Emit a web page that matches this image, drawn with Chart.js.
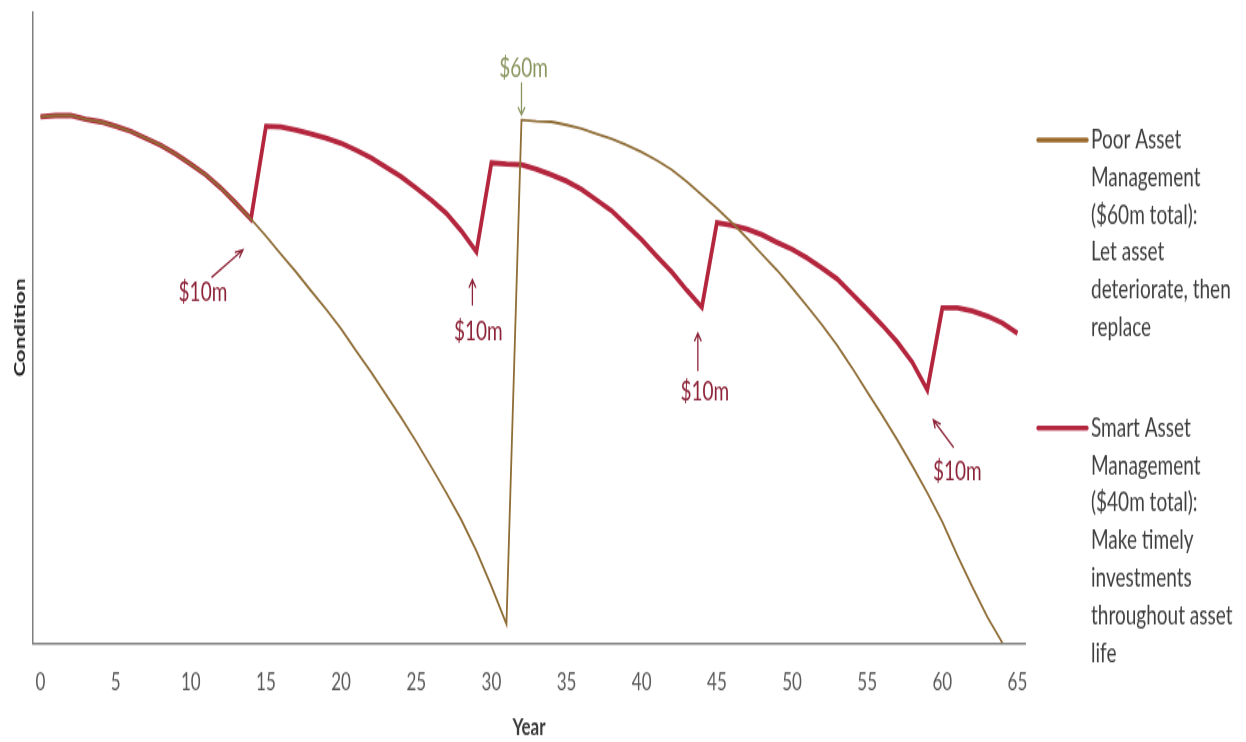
<!DOCTYPE html>
<html>
<head>
<meta charset="utf-8">
<script src="https://cdn.jsdelivr.net/npm/chart.js@4.4.1/dist/chart.umd.min.js"></script>
<style>
  html, body { margin: 0; padding: 0; background: #fff; }
  #page { position: relative; width: 1246px; height: 742px; overflow: hidden; background: #fff; }
  /* the chart is laid out 530px tall and stretched to 742px, giving tall narrow lettering */
  #wrap { position: absolute; left: 0; top: 0; width: 1246px; height: 530px; transform: scaleY(1.4); transform-origin: 0 0; }
  canvas { display: block; }
</style>
</head>
<body>
<div id="page"><div id="wrap"><canvas id="chart" width="1246" height="530"></canvas></div></div>
<script>
// Year categories along the x axis
const years = ['0','1','2','3','4','5','6','7','8','9',
  '10','11','12','13','14','15','16','17','18','19',
  '20','21','22','23','24','25','26','27','28','29',
  '30','31','32','33','34','35','36','37','38','39',
  '40','41','42','43','44','45','46','47','48','49',
  '50','51','52','53','54','55','56','57','58','59',
  '60','61','62','63','64','65'];

// Asset condition (0 = failed, 100 = top of scale), one value per year
const poorCondition = [83.4, 83.6, 83.6, 83.0, 82.6, 81.9, 81.1, 80.0, 78.9, 77.5,
  75.9, 74.2, 72.1, 69.7, 67.2, 64.5, 61.6, 58.8, 55.8, 52.9,
  49.8, 46.3, 42.9, 39.3, 35.7, 31.9, 27.9, 23.8, 19.5, 14.6,
  9.0, 3.0, 82.9, 82.7, 82.6, 82.1, 81.5, 80.7, 79.9, 78.9,
  77.8, 76.5, 75.0, 73.1, 71.0, 68.9, 66.6, 64.2, 61.6, 59.1,
  56.3, 53.4, 50.4, 47.2, 43.6, 39.8, 36.1, 32.2, 28.1, 23.8,
  19.2, 13.9, 8.9, 4.1, 0.0, null];

const smartCondition = [83.4, 83.6, 83.6, 83.0, 82.6, 81.9, 81.1, 80.0, 78.9, 77.5,
  75.9, 74.2, 72.1, 69.7, 67.2, 81.9, 81.8, 81.3, 80.7, 80.0,
  79.2, 78.1, 76.9, 75.4, 73.9, 72.1, 70.2, 68.1, 65.3, 62.0,
  76.1, 75.9, 75.8, 75.1, 74.2, 73.2, 71.9, 70.2, 68.5, 66.2,
  63.9, 61.3, 58.8, 55.9, 53.2, 66.6, 66.2, 65.6, 64.7, 63.5,
  62.4, 61.0, 59.4, 57.7, 55.3, 52.9, 50.4, 47.7, 44.5, 40.1,
  53.1, 53.1, 52.6, 51.8, 50.7, 49.1];

// Spending events: the year each note points at and what it says
const smartInvestYears = [14, 29, 44, 59];
const smartInvestLabels = ['$10m', '$10m', '$10m', '$10m'];
const poorReplaceYear = 32;
const poorReplaceLabel = '$60m';

// Legend wording
const poorLegendLines = ['Poor Asset', 'Management', '($60m total):', 'Let asset', 'deteriorate, then', 'replace'];
const smartLegendLines = ['Smart Asset', 'Management', '($40m total):', 'Make timely', 'investments', 'throughout asset', 'life'];

const STRETCH = 1.4;          // CSS vertical scale of the canvas
const POOR = '#8f6d36';
const POOR_KEY = '#9a6a2c';
const SMART = '#b3263e';
const NOTE_RED = '#8c2338';
const NOTE_GREEN = '#8a9660';
const FONT = 'Lato, "Open Sans", sans-serif';

// Note placement relative to the point each note refers to (screen pixels)
const smartNoteOffsets = [
  { tip: [-8, 31], tail: [-39, 58], label: [-48, 73] },
  { tip: [-4, 28], tail: [-4, 53], label: [2, 80] },
  { tip: [-4, 26], tail: [-4, 63], label: [3, 84] },
  { tip: [6, 30], tail: [26, 57], label: [30, 81] }
];
const replaceNoteOffset = { tip: [0, -5], tail: [0, -37], label: [2, -52] };

// Draw an arrow given screen-space coordinates; y is mapped back into canvas units
function drawArrow(ctx, x1, y1, x2, y2, color, width) {
  const a = Math.atan2(y2 - y1, x2 - x1);
  const head = 8, spread = 0.42;
  ctx.strokeStyle = color;
  ctx.lineWidth = width;
  ctx.lineCap = 'round';
  ctx.beginPath();
  ctx.moveTo(x1, y1 / STRETCH);
  ctx.lineTo(x2, y2 / STRETCH);
  ctx.moveTo(x2 - head * Math.cos(a - spread), (y2 - head * Math.sin(a - spread)) / STRETCH);
  ctx.lineTo(x2, y2 / STRETCH);
  ctx.lineTo(x2 - head * Math.cos(a + spread), (y2 - head * Math.sin(a + spread)) / STRETCH);
  ctx.stroke();
}

function drawNote(ctx, text, x, y, color) {
  ctx.fillStyle = color;
  ctx.font = '19px ' + FONT;
  ctx.textAlign = 'center';
  ctx.textBaseline = 'middle';
  ctx.fillText(text, x, y / STRETCH);
}

const notesPlugin = {
  id: 'spendingNotes',
  afterDatasetsDraw(chart) {
    const { ctx, scales: { x, y } } = chart;
    ctx.save();
    smartInvestYears.forEach((yr, i) => {
      const px = x.getPixelForValue(yr);
      const py = y.getPixelForValue(smartCondition[yr]) * STRETCH;
      const o = smartNoteOffsets[i];
      drawArrow(ctx, px + o.tail[0], py + o.tail[1], px + o.tip[0], py + o.tip[1], NOTE_RED, 1.3);
      drawNote(ctx, smartInvestLabels[i], px + o.label[0], py + o.label[1], NOTE_RED);
    });
    const rx = x.getPixelForValue(poorReplaceYear);
    const ry = y.getPixelForValue(poorCondition[poorReplaceYear]) * STRETCH;
    const r = replaceNoteOffset;
    drawArrow(ctx, rx + r.tail[0], ry + r.tail[1], rx + r.tip[0], ry + r.tip[1], NOTE_GREEN, 1.3);
    drawNote(ctx, poorReplaceLabel, rx + r.label[0], ry + r.label[1], NOTE_GREEN);
    ctx.restore();
  }
};

// Side legend with wrapped descriptions
const sideLegendPlugin = {
  id: 'sideLegend',
  afterDraw(chart) {
    const { ctx } = chart;
    const blocks = [
      { lines: poorLegendLines, color: POOR_KEY, top: 140 },
      { lines: smartLegendLines, color: SMART, top: 428 }
    ];
    const keyLeft = 1038, keyRight = 1087, textLeft = 1091, step = 37.5;
    ctx.save();
    blocks.forEach(b => {
      ctx.strokeStyle = b.color;
      ctx.lineWidth = 3.4;
      ctx.lineCap = 'round';
      ctx.beginPath();
      ctx.moveTo(keyLeft, b.top / STRETCH);
      ctx.lineTo(keyRight, b.top / STRETCH);
      ctx.stroke();
      ctx.fillStyle = '#3f3f3f';
      ctx.font = '19px ' + FONT;
      ctx.textAlign = 'left';
      ctx.textBaseline = 'middle';
      b.lines.forEach((t, i) => ctx.fillText(t, textLeft, (b.top + i * step) / STRETCH));
    });
    ctx.restore();
  }
};

new Chart(document.getElementById('chart'), {
  type: 'line',
  data: {
    labels: years,
    datasets: [
      {
        label: 'Poor Asset Management ($60m total): Let asset deteriorate, then replace',
        data: poorCondition,
        borderColor: POOR,
        borderWidth: 1.8,
        pointRadius: 0,
        tension: 0,
        clip: false,
        spanGaps: false
      },
      {
        label: 'Smart Asset Management ($40m total): Make timely investments throughout asset life',
        data: smartCondition,
        borderColor: SMART,
        borderWidth: 3.8,
        pointRadius: 0,
        tension: 0,
        clip: false
      }
    ]
  },
  options: {
    responsive: false,
    animation: false,
    devicePixelRatio: 1,
    layout: { padding: { top: 12 / STRETCH, right: 221, left: 0, bottom: 0 } },
    plugins: { legend: { display: false }, tooltip: { enabled: false } },
    scales: {
      x: {
        type: 'category',
        offset: true,
        grid: { display: false, drawTicks: false },
        border: { display: true, color: '#7f7f7f', width: 1.5 },
        ticks: {
          autoSkip: false,
          maxRotation: 0,
          padding: 18,
          color: '#595959',
          font: { family: FONT, size: 17 },
          callback: (v, i) => (i % 5 === 0 ? years[i] : '')
        },
        title: {
          display: true,
          text: 'Year',
          color: '#3a3a3a',
          font: { family: FONT, size: 17, weight: 'bold' },
          padding: { top: 0, bottom: 0 }
        },
        afterFit: s => { s.height = 530 - 643 / STRETCH; }
      },
      y: {
        min: 0,
        max: 100,
        grid: { display: false, drawTicks: false },
        border: { display: true, color: '#7f7f7f', width: 1.5 },
        ticks: { display: false },
        title: {
          display: true,
          text: 'Condition',
          color: '#262626',
          font: { family: FONT, size: 16, weight: 'bold' },
          padding: { top: 10, bottom: 0 }
        },
        afterFit: s => { s.width = 33; }
      }
    }
  },
  plugins: [notesPlugin, sideLegendPlugin]
});
</script>
</body>
</html>
